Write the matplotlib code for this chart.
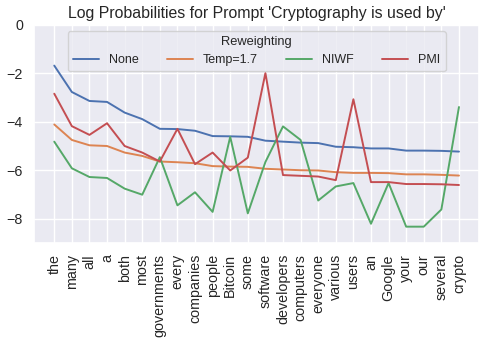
import matplotlib
matplotlib.use("Agg")
import matplotlib.pyplot as plt
import seaborn as sns

tokens = ["the", "many", "all", "a", "both", "most", "governments", "every",
          "companies", "people", "Bitcoin", "some", "software", "developers",
          "computers", "everyone", "various", "users", "an", "Google", "your",
          "our", "several", "crypto"]

none_vals = [-1.68, -2.77, -3.14, -3.18, -3.62, -3.89, -4.29, -4.30, -4.37, -4.59,
             -4.60, -4.62, -4.78, -4.82, -4.86, -4.88, -5.03, -5.05, -5.10, -5.10,
             -5.19, -5.19, -5.20, -5.23]
temp_vals = [-4.11, -4.75, -4.97, -5.00, -5.27, -5.41, -5.64, -5.67, -5.71, -5.83,
             -5.85, -5.86, -5.94, -5.97, -6.00, -6.01, -6.08, -6.11, -6.11, -6.12,
             -6.17, -6.17, -6.19, -6.22]
niwf_vals = [-4.82, -5.92, -6.28, -6.32, -6.76, -7.01, -5.46, -7.45, -6.91, -7.72,
             -4.62, -7.78, -5.66, -4.19, -4.75, -7.25, -6.67, -6.53, -8.21, -6.53,
             -8.33, -8.33, -7.62, -3.39]
pmi_vals = [-2.84, -4.18, -4.54, -4.06, -5.00, -5.27, -5.64, -4.29, -5.75, -5.27,
            -6.01, -5.48, -1.99, -6.20, -6.23, -6.26, -6.41, -3.07, -6.49, -6.49,
            -6.57, -6.57, -6.58, -6.61]

series_names = ["None", "Temp=1.7", "NIWF", "PMI"]
series_vals = [none_vals, temp_vals, niwf_vals, pmi_vals]

sns.set_theme(style="darkgrid")
plt.rcParams['font.family'] = ['Liberation Sans', 'DejaVu Sans']

fig = plt.figure(figsize=(4.86, 3.46), dpi=100)
ax = fig.add_axes([0.070, 0.298, 0.916, 0.630])

colors = sns.color_palette("deep")
for name, vals, c in zip(series_names, series_vals, colors):
    ax.plot(range(len(tokens)), vals, label=name, color=c, linewidth=1.4)

ax.set_xticks(range(len(tokens)))
ax.set_xticklabels(tokens, rotation=90, fontsize=10.3)
ax.set_ylim(-9, 0)
ax.set_yticks([0, -2, -4, -6, -8])
ax.set_yticklabels(["0", "\u22122", "\u22124", "\u22126", "\u22128"], fontsize=10.3)
ax.tick_params(axis='both', pad=2)
ax.set_title("Log Probabilities for Prompt 'Cryptography is used by'", fontsize=11.4, pad=5)

leg = ax.legend(title="Reweighting", ncol=4, loc="upper center", fontsize=9,
                title_fontsize=9.3, handlelength=2.1, columnspacing=2.25)

fig.savefig("out.png", dpi=100)
